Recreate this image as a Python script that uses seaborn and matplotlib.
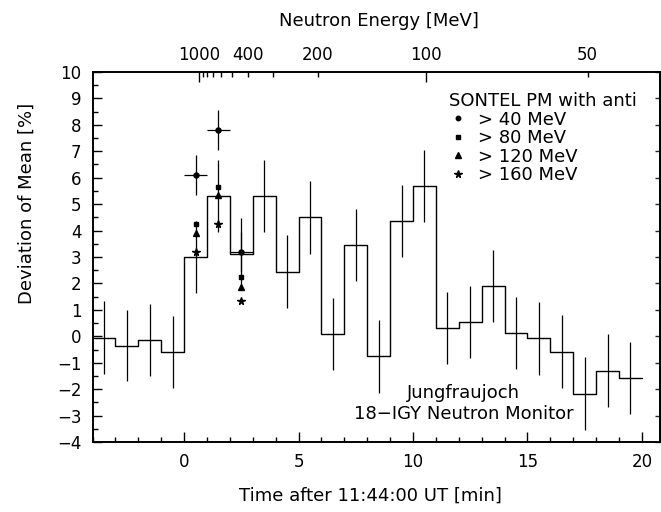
import numpy as np
import matplotlib
matplotlib.use("Agg")
import matplotlib.pyplot as plt
from matplotlib.ticker import MultipleLocator
from matplotlib.lines import Line2D
import seaborn as sns

# --- valores ---
bin_edges = [-4, -3, -2, -1, 0, 1, 2, 3, 4, 5, 6, 7, 8, 9, 10, 11, 12,
             13, 14, 15, 16, 17, 18, 19, 20]
monitor_dev = [-0.05, -0.35, -0.15, -0.6, 3.0, 5.3, 3.12, 5.3, 2.45, 4.5,
               0.1, 3.45, -0.75, 4.35, 5.7, 0.33, 0.53, 1.9, 0.12, -0.08,
               -0.58, -2.18, -1.3, -1.57]
monitor_err = [1.37, 1.36, 1.37, 1.37, 1.37, 1.37, 1.37, 1.37, 1.37, 1.37,
               1.36, 1.37, 1.38, 1.36, 1.36, 1.36, 1.37, 1.37, 1.37, 1.37,
               1.38, 1.38, 1.37, 1.37]

sontel_time = [0.5, 1.5, 2.5]
sontel_time_err = [0.5, 0.5, 0.5]
sontel_gt40 = [6.1, 7.8, 3.2]
sontel_gt40_err = [0.75, 0.75, 0.75]
sontel_gt80 = [4.25, 5.65, 2.25]
sontel_gt120 = [3.9, 5.35, 1.85]
sontel_gt160 = [3.2, 4.25, 1.35]

energy_major = [1000, 100]
energy_minor = [900, 800, 700, 600, 500, 400, 300, 200, 50]
energy_minor_labels = ['', '', '', '', '', '400', '', '200', '50']

# tiempo de vuelo Sol-Tierra de los neutrones
NEUTRON_MASS = 939.57          # MeV
AU_LIGHT_MIN = 499.0 / 60.0    # min
T_OFFSET = -0.55               # min


def energy_to_time(e):
    gamma = 1.0 + np.asarray(e, dtype=float) / NEUTRON_MASS
    beta = np.sqrt(1.0 - 1.0 / gamma**2)
    return AU_LIGHT_MIN * (1.0 / beta - 1.0) + T_OFFSET


sns.set_theme(style="ticks")
plt.rcParams['font.family'] = ['DejaVu Sans']
plt.rcParams['axes.linewidth'] = 1.2
plt.rcParams['text.color'] = 'black'
plt.rcParams['axes.labelcolor'] = 'black'
plt.rcParams['axes.edgecolor'] = 'black'

fig = plt.figure(figsize=(6.61, 5.12), dpi=100)
ax = fig.add_axes([0.140, 0.1367, 0.8585, 0.7227])

centers = np.array(bin_edges[:-1]) + 0.5
sns.histplot(x=centers, weights=monitor_dev, bins=bin_edges, element="step",
             fill=False, color="black", linewidth=1.0, ax=ax)
ax.errorbar(centers, monitor_dev, yerr=monitor_err, fmt="none",
            ecolor="black", elinewidth=0.9, capsize=0)

ax.errorbar(sontel_time, sontel_gt40, xerr=sontel_time_err, yerr=sontel_gt40_err,
            fmt="o", ms=3.6, color="black", elinewidth=0.9, capsize=0)
ax.plot(sontel_time, sontel_gt80, "s", ms=3.1, color="black", ls="none")
ax.plot(sontel_time, sontel_gt120, "^", ms=4.5, color="black", ls="none")
ax.plot(sontel_time, sontel_gt160, "*", ms=5.5, color="black", ls="none")

ax.set_xlim(-4, 20.79)
ax.set_ylim(-4, 10)

ax.xaxis.set_major_locator(MultipleLocator(5))
ax.xaxis.set_minor_locator(MultipleLocator(1))
ax.yaxis.set_major_locator(MultipleLocator(1))
ax.yaxis.set_minor_locator(MultipleLocator(0.5))
ax.tick_params(which="both", direction="in", colors="black", labelsize=12,
               right=False, top=False)
ax.tick_params(axis="x", which="major", length=7.5, width=1.0, pad=8)
ax.tick_params(axis="x", which="minor", length=3.8, width=1.0)
ax.tick_params(axis="y", which="major", length=6.5, width=1.0, pad=8)
ax.tick_params(axis="y", which="minor", length=3.3, width=1.0)

ax.set_xlabel("Time after 11:44:00 UT [min]", fontsize=13)
ax.xaxis.set_label_coords(0.489, -0.122)
ax.set_ylabel("Deviation of Mean [%]", fontsize=13)
ax.yaxis.set_label_coords(-0.100, 0.645)

# eje derecho
ax_right = ax.secondary_yaxis("right")
ax_right.yaxis.set_major_locator(MultipleLocator(1))
ax_right.tick_params(direction="in", length=3.5, width=1.0, labelright=False)

# eje superior en energia
ax_top = ax.twiny()
ax_top.set_xlim(ax.get_xlim())
ax_top.set_xticks(energy_to_time(energy_major), labels=[str(e) for e in energy_major])
ax_top.set_xticks(energy_to_time(energy_minor), labels=energy_minor_labels, minor=True)
ax_top.tick_params(which="both", direction="in", colors="black", labelsize=12, pad=6)
ax_top.tick_params(which="major", length=7.5, width=1.0)
ax_top.tick_params(which="minor", length=3.8, width=1.0)
ax_top.set_xlabel("Neutron Energy [MeV]", fontsize=13)
ax_top.xaxis.set_label_coords(0.505, 1.124)

ax.text(12.2, -2.55, "Jungfraujoch\n18\u2212IGY Neutron Monitor", ha="center",
        va="center", fontsize=13, linespacing=1.2)

handles = [
    Line2D([], [], marker="o", ms=3.2, color="black", ls="none"),
    Line2D([], [], marker="s", ms=3.0, color="black", ls="none"),
    Line2D([], [], marker="^", ms=4.5, color="black", ls="none"),
    Line2D([], [], marker="*", ms=5.5, color="black", ls="none"),
]
labels = ["> 40 MeV", "> 80 MeV", "> 120 MeV", "> 160 MeV"]
ax.legend(handles, labels, title="SONTEL PM with anti", loc="upper left",
          bbox_to_anchor=(0.628, 0.946), frameon=False, alignment="left",
          fontsize=13, title_fontsize=13, handlelength=1.0, handletextpad=0.6,
          labelspacing=0.03, borderpad=0, borderaxespad=0)

fig.savefig("out.png", dpi=100)
